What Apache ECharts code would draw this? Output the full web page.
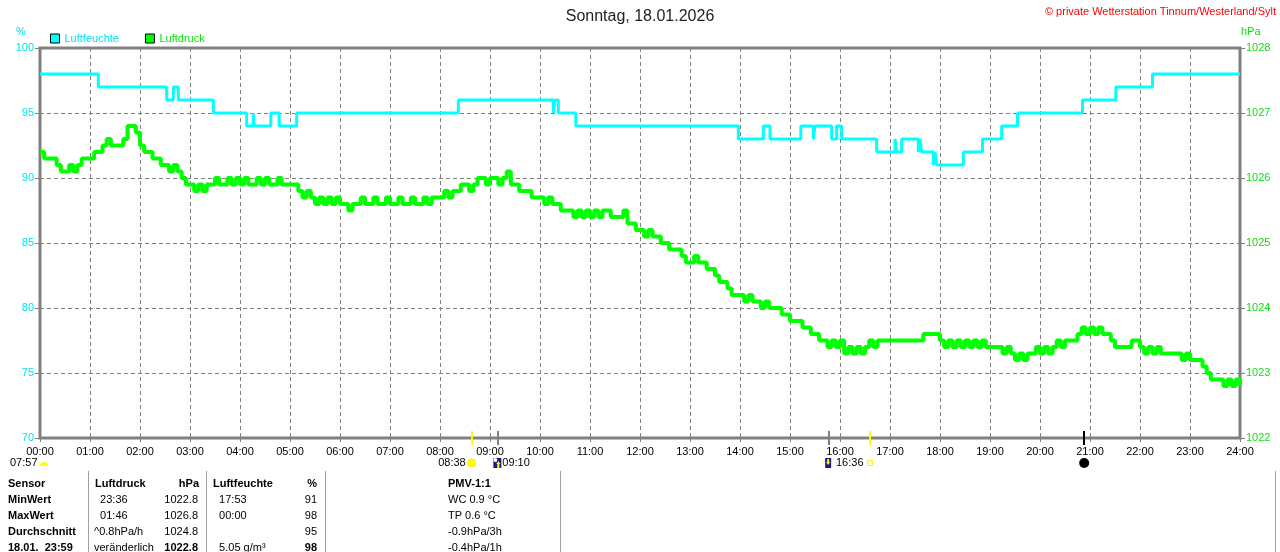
<!DOCTYPE html>
<html>
<head>
<meta charset="utf-8">
<script src="https://cdn.jsdelivr.net/npm/echarts@6/dist/echarts.min.js"></script>
<style>
    html, body { margin: 0; padding: 0; background: #fff; }
    #chart { width: 1280px; height: 552px; }
</style>
</head>
<body>
<div id="chart"></div>
<script>
const chartTitle = 'Sonntag, 18.01.2026';
const copyright = '\u00a9 private Wetterstation Tinnum/Westerland/Sylt';
const humidityName = 'Luftfeuchte';
const pressureName = 'Luftdruck';

// humidity changes: [minute of day, %]
const humiditySteps = [
    [0, 98], [70, 97], [152, 96], [160, 97], [166, 96], [208, 95], [248, 94], [256, 95],
    [257, 94], [277, 95], [287, 94], [308, 95], [502, 96], [616, 95], [618, 96], [622, 95],
    [643, 94], [838, 93], [868, 94], [876, 93], [913, 94], [928, 93], [930, 94], [950, 93],
    [956, 94], [962, 93], [1004, 92], [1026, 93], [1028, 92], [1034, 93], [1054, 92],
    [1056, 93], [1058, 92], [1072, 91], [1074, 92], [1076, 91], [1108, 92], [1131, 93],
    [1154, 94], [1173, 95], [1251, 96], [1291, 97], [1335, 98], [1440, 98]
];

// pressure, one value every 5 minutes from 00:00 to 24:00 (hPa), one row per hour
const pressureStep = 5;
const pressureValues = [
    1026.4, 1026.3, 1026.3, 1026.3, 1026.2, 1026.1, 1026.1, 1026.2, 1026.1, 1026.2, 1026.3, 1026.3,
    1026.3, 1026.4, 1026.4, 1026.5, 1026.6, 1026.5, 1026.5, 1026.5, 1026.6, 1026.8, 1026.8, 1026.7,
    1026.5, 1026.4, 1026.4, 1026.3, 1026.3, 1026.2, 1026.2, 1026.1, 1026.2, 1026.1, 1026.0, 1025.9,
    1025.9, 1025.8, 1025.9, 1025.8, 1025.9, 1025.9, 1026.0, 1025.9, 1025.9, 1026.0, 1025.9, 1026.0,
    1025.9, 1026.0, 1025.9, 1025.9, 1026.0, 1025.9, 1026.0, 1025.9, 1025.9, 1026.0, 1025.9, 1025.9,
    1025.9, 1025.9, 1025.8, 1025.7, 1025.8, 1025.7, 1025.6, 1025.7, 1025.6, 1025.7, 1025.6, 1025.7,
    1025.6, 1025.6, 1025.5, 1025.6, 1025.6, 1025.7, 1025.6, 1025.6, 1025.7, 1025.6, 1025.6, 1025.7,
    1025.6, 1025.6, 1025.7, 1025.6, 1025.6, 1025.7, 1025.6, 1025.6, 1025.7, 1025.6, 1025.7, 1025.7,
    1025.7, 1025.8, 1025.7, 1025.8, 1025.8, 1025.9, 1025.9, 1025.8, 1025.9, 1026.0, 1026.0, 1025.9,
    1026.0, 1026.0, 1025.9, 1026.0, 1026.1, 1025.9, 1025.9, 1025.8, 1025.8, 1025.8, 1025.7, 1025.7,
    1025.7, 1025.6, 1025.7, 1025.6, 1025.6, 1025.5, 1025.5, 1025.5, 1025.4, 1025.5, 1025.4, 1025.5,
    1025.4, 1025.5, 1025.4, 1025.5, 1025.5, 1025.4, 1025.4, 1025.4, 1025.5, 1025.3, 1025.3, 1025.2,
    1025.2, 1025.1, 1025.2, 1025.1, 1025.1, 1025.0, 1025.0, 1024.9, 1024.9, 1024.9, 1024.8, 1024.7,
    1024.7, 1024.8, 1024.7, 1024.7, 1024.6, 1024.6, 1024.5, 1024.4, 1024.4, 1024.3, 1024.2, 1024.2,
    1024.2, 1024.1, 1024.2, 1024.1, 1024.1, 1024.0, 1024.1, 1024.0, 1024.0, 1024.0, 1023.9, 1023.9,
    1023.8, 1023.8, 1023.8, 1023.7, 1023.7, 1023.6, 1023.6, 1023.5, 1023.5, 1023.4, 1023.5, 1023.4,
    1023.5, 1023.3, 1023.4, 1023.3, 1023.4, 1023.3, 1023.4, 1023.5, 1023.4, 1023.5, 1023.5, 1023.5,
    1023.5, 1023.5, 1023.5, 1023.5, 1023.5, 1023.5, 1023.5, 1023.5, 1023.6, 1023.6, 1023.6, 1023.6,
    1023.5, 1023.4, 1023.5, 1023.4, 1023.5, 1023.4, 1023.5, 1023.4, 1023.5, 1023.4, 1023.5, 1023.4,
    1023.4, 1023.4, 1023.4, 1023.3, 1023.4, 1023.3, 1023.2, 1023.3, 1023.2, 1023.3, 1023.3, 1023.4,
    1023.3, 1023.4, 1023.3, 1023.4, 1023.5, 1023.4, 1023.5, 1023.5, 1023.5, 1023.6, 1023.7, 1023.6,
    1023.7, 1023.6, 1023.7, 1023.6, 1023.6, 1023.5, 1023.4, 1023.4, 1023.4, 1023.4, 1023.5, 1023.5,
    1023.4, 1023.3, 1023.4, 1023.3, 1023.4, 1023.3, 1023.3, 1023.3, 1023.3, 1023.3, 1023.2, 1023.3,
    1023.2, 1023.2, 1023.2, 1023.1, 1023.0, 1022.9, 1022.9, 1022.9, 1022.8, 1022.9, 1022.8, 1022.9,
    1022.8
];

// sun and moon events on the time axis (minute of day)
const eventTicks = [
    {time: 518, color: '#ffff00'},
    {time: 550, color: '#808080'},
    {time: 947, color: '#808080'},
    {time: 996, color: '#ffff00'},
    {time: 1253, color: '#000000'}
];
const sunriseText = '08:38';
const moonriseText = '09:10';
const sunsetText = '16:36';
const dawnText = '07:57';

// statistics table
const tableHeader = ['Sensor', 'Luftdruck', 'hPa', 'Luftfeuchte', '%', 'PMV-1:1'];
const rowLabels = ['MinWert', 'MaxWert', 'Durchschnitt', '18.01.  23:59'];
const pressureTimes = ['  23:36', '  01:46', '^0.8hPa/h', 'ver\u00e4nderlich'];
const pressureStats = ['1022.8', '1026.8', '1024.8', '1022.8'];
const humidityTimes = ['  17:53', '  00:00', '', '  5.05 g/m\u00b3'];
const humidityStats = ['91', '98', '95', '98'];
const pmvTexts = ['WC 0.9 \u00b0C', 'TP 0.6 \u00b0C', '-0.9hPa/3h', '-0.4hPa/1h'];

const cyan = '#00ffff';
const green = '#00ff00';
const cyanText = '#00e4ee';
const greenText = '#10dd10';
const gridGray = '#808080';
const font = '"Liberation Sans", Arial, sans-serif';

function pad(n) {
    return (n < 10 ? '0' : '') + n;
}

let pressureData = pressureValues.map((v, i) => [i * pressureStep, v]);

let chart = echarts.init(document.getElementById('chart'));
chart.setOption({
    animation: false,
    textStyle: {fontFamily: font},
    title: {
        text: chartTitle,
        left: 'center',
        top: 4,
        textStyle: {fontSize: 16, fontWeight: 'normal', color: '#222', fontFamily: font}
    },
    legend: {
        left: 45,
        top: 28,
        icon: 'rect',
        itemWidth: 9,
        itemHeight: 9,
        itemGap: 26,
        itemStyle: {borderColor: '#000', borderWidth: 1},
        textStyle: {fontSize: 11, fontFamily: font},
        data: [
            {name: humidityName, textStyle: {color: cyanText}},
            {name: pressureName, textStyle: {color: greenText}}
        ]
    },
    grid: {
        left: 40,
        right: 40,
        top: 48,
        bottom: 114,
        show: true,
        borderColor: gridGray,
        borderWidth: 3
    },
    xAxis: {
        type: 'value',
        min: 0,
        max: 1440,
        interval: 60,
        axisLine: {show: false},
        axisTick: {show: true, length: 6, lineStyle: {color: gridGray, type: [4, 3]}},
        axisLabel: {
            color: '#000',
            fontSize: 11,
            margin: 8,
            formatter: v => pad(v / 60) + ':00'
        },
        splitLine: {show: true, lineStyle: {color: gridGray, type: [4, 3]}}
    },
    yAxis: [
        {
            type: 'value',
            min: 70,
            max: 100,
            interval: 5,
            axisLine: {show: false},
            axisTick: {show: true, length: 5, lineStyle: {color: gridGray}},
            axisLabel: {color: cyanText, fontSize: 11, margin: 6},
            splitLine: {show: true, lineStyle: {color: gridGray, type: [4, 3]}}
        },
        {
            type: 'value',
            min: 1022,
            max: 1028,
            interval: 1,
            position: 'right',
            axisLine: {show: false},
            axisTick: {show: true, length: 5, lineStyle: {color: gridGray}},
            axisLabel: {color: greenText, fontSize: 11, margin: 6, formatter: v => String(v)},
            splitLine: {show: false}
        }
    ],
    series: [
        {
            name: humidityName,
            type: 'line',
            step: 'end',
            yAxisIndex: 0,
            showSymbol: false,
            lineStyle: {color: cyan, width: 3},
            itemStyle: {color: cyan},
            data: humiditySteps
        },
        {
            name: pressureName,
            type: 'line',
            step: 'end',
            yAxisIndex: 1,
            showSymbol: false,
            lineStyle: {color: green, width: 4},
            itemStyle: {color: green},
            data: pressureData
        }
    ]
});

// decorations: axis captions, event ticks, table
let graphics = [];
graphics.push({type: 'text', left: 16, top: 26, style: {text: '%', fill: cyanText, font: '11px ' + font}});
graphics.push({type: 'text', left: 1241, top: 26, style: {text: 'hPa', fill: greenText, font: '11px ' + font}});
graphics.push({type: 'text', right: 4, top: 6, style: {text: copyright, fill: '#ff0000', font: '11px ' + font}});

let axisY = chart.convertToPixel({yAxisIndex: 0}, 70);
eventTicks.forEach(e => {
    let x = Math.round(chart.convertToPixel({xAxisIndex: 0}, e.time));
    graphics.push({
        type: 'line',
        shape: {x1: x, y1: axisY - 7, x2: x, y2: axisY + 7},
        style: {stroke: e.color, lineWidth: 2}
    });
});

let px = t => chart.convertToPixel({xAxisIndex: 0}, t);
let iconY = 463;
// dawn at the left
graphics.push({type: 'text', x: 10, y: iconY, style: {text: dawnText, fill: '#000', font: '11px ' + font, textVerticalAlign: 'middle'}});
graphics.push({type: 'sector', shape: {cx: 44, cy: iconY + 3, r: 4, startAngle: Math.PI, endAngle: 2 * Math.PI}, style: {fill: '#ffff00'}});
// sunrise
let sx = px(eventTicks[0].time);
graphics.push({type: 'text', x: sx - 6, y: iconY, style: {text: sunriseText, fill: '#000', font: '11px ' + font, textAlign: 'right', textVerticalAlign: 'middle'}});
graphics.push({type: 'circle', shape: {cx: sx, cy: iconY, r: 4}, style: {fill: '#ffff00', stroke: '#ffee00', lineWidth: 1}});
// moonrise
let mx = px(eventTicks[1].time);
graphics.push({type: 'rect', shape: {x: mx - 5, y: iconY - 5, width: 8, height: 10}, style: {fill: '#1c1c80'}});
graphics.push({type: 'circle', shape: {cx: mx - 3, cy: iconY - 3, r: 2}, style: {fill: '#ffffff'}});
graphics.push({type: 'polygon', shape: {points: [[mx, iconY - 2], [mx + 2, iconY + 1], [mx + 1, iconY + 1], [mx + 1, iconY + 5], [mx - 1, iconY + 5], [mx - 1, iconY + 1], [mx - 2, iconY + 1]]}, style: {fill: '#ffff00'}});
graphics.push({type: 'text', x: mx + 4, y: iconY, style: {text: moonriseText, fill: '#000', font: '11px ' + font, textVerticalAlign: 'middle'}});
// moonset and sunset
let ms = px(eventTicks[2].time);
graphics.push({type: 'rect', shape: {x: ms - 4, y: iconY - 5, width: 6, height: 10}, style: {fill: '#1c1c80'}});
graphics.push({type: 'polygon', shape: {points: [[ms - 1, iconY + 2], [ms + 1, iconY - 1], [ms, iconY - 1], [ms, iconY - 4], [ms - 2, iconY - 4], [ms - 2, iconY - 1], [ms - 3, iconY - 1]]}, style: {fill: '#ffff00'}});
let ss = px(eventTicks[3].time);
graphics.push({type: 'text', x: ss - 34, y: iconY, style: {text: sunsetText, fill: '#000', font: '11px ' + font, textVerticalAlign: 'middle'}});
graphics.push({type: 'rect', shape: {x: ss - 2.5, y: iconY - 2.5, width: 5, height: 5}, style: {fill: '#fff', stroke: '#ffee00', lineWidth: 1}});
// moon phase
let np = px(eventTicks[4].time);
graphics.push({type: 'circle', shape: {cx: np, cy: iconY, r: 5}, style: {fill: '#000'}});

// table separators
[88, 206, 325, 560, 1275].forEach(x => {
    graphics.push({type: 'line', shape: {x1: x + 0.5, y1: 471, x2: x + 0.5, y2: 552}, style: {stroke: '#a0a0a0', lineWidth: 1}});
});

function cell(text, x, y, bold, align) {
    graphics.push({
        type: 'text',
        x: x,
        y: y,
        style: {
            text: text,
            fill: '#000',
            font: (bold ? 'bold ' : '') + '11px ' + font,
            textAlign: align || 'left',
            textVerticalAlign: 'middle'
        }
    });
}

let rowY = [484, 500, 516, 532, 548];
cell(tableHeader[0], 8, rowY[0], true);
cell(tableHeader[1], 95, rowY[0], true);
cell(tableHeader[2], 199, rowY[0], true, 'right');
cell(tableHeader[3], 213, rowY[0], true);
cell(tableHeader[4], 317, rowY[0], true, 'right');
cell(tableHeader[5], 448, rowY[0], true);
rowLabels.forEach((label, i) => {
    let y = rowY[i + 1];
    let last = i === rowLabels.length - 1;
    cell(label, 8, y, true);
    cell(pressureTimes[i], 94, y, false);
    cell(pressureStats[i], 198, y, last, 'right');
    cell(humidityTimes[i], 213, y, false);
    cell(humidityStats[i], 317, y, last, 'right');
    cell(pmvTexts[i], 448, y, false);
});

chart.setOption({graphic: graphics});
</script>
</body>
</html>
